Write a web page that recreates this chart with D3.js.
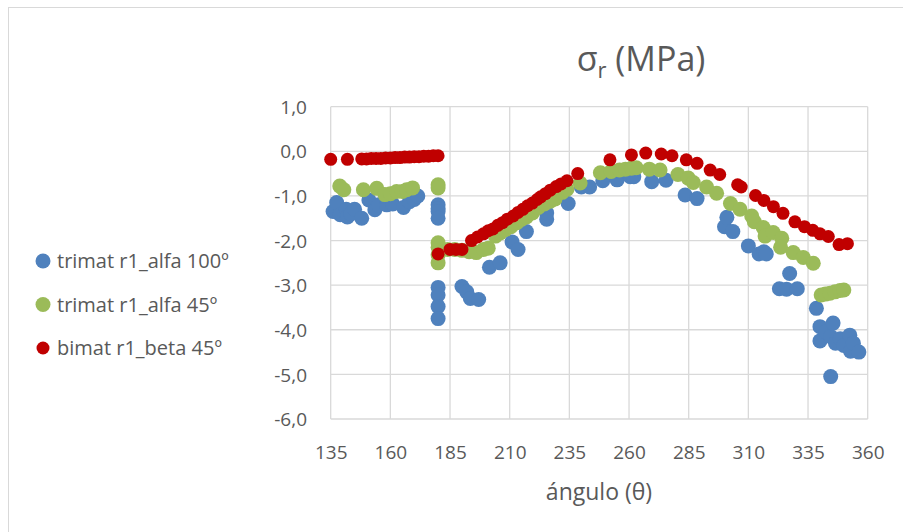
<!DOCTYPE html>
<html><head><meta charset="utf-8">
<script src="https://cdn.jsdelivr.net/npm/d3@7/dist/d3.min.js"></script>
<style>
body{margin:0;background:#fff;}
svg text{font-family:"Open Sans",sans-serif;fill:#595959;}
</style></head>
<body><svg id="c" width="903" height="532"></svg>
<script>
const seriesNames = ["trimat r1_alfa 100º", "trimat r1_alfa 45º", "bimat r1_beta 45º"];
const seriesColors = ["#4F81BD", "#9BBB59", "#C00000"];
const xTicks = [135,160,185,210,235,260,285,310,335,360];
const yTicks = [1,0,-1,-2,-3,-4,-5,-6];

// trimat r1_alfa 100º  [angle, sigma_r]
const blue = [
[136,-1.35],[137.5,-1.15],[139,-1.42],[141.5,-1.3],[142,-1.47],[143.5,-1.4],[145,-1.3],[148,-1.5],
[151,-1.09],[153.5,-1.31],[155,-1.2],[158.5,-1.2],[161,-1.18],[165.5,-1.26],[168,-1.13],[170,-1.08],[171.5,-1.0],
[180,-1.2],[180,-1.28],[180,-1.35],[180,-1.5],[180,-3.05],[180,-3.22],[180,-3.48],[180,-3.75],
[190,-3.03],[192,-3.15],[193.5,-3.3],[197,-3.32],[201.5,-2.6],[206,-2.5],[211,-2.03],[213.5,-2.2],[217,-1.8],
[225.5,-1.52],[225.5,-1.38],[234.5,-1.17],[240,-0.8],[243.5,-0.8],[249,-0.66],[255,-0.64],[260.5,-0.57],[262,-0.57],
[269.5,-0.68],[275.5,-0.65],[283.5,-0.98],[288.5,-1.06],[300,-1.69],[301,-1.48],[303.5,-1.8],[310,-2.12],
[314.5,-2.3],[316.5,-2.25],[317.5,-2.3],[323,-3.08],[326,-3.09],[327.3,-2.74],[330.5,-3.08],
[338.5,-3.52],[340,-3.93],[340,-4.25],[342.5,-4.05],[344.5,-4.15],[344.5,-5.05],[345.5,-3.85],[346.5,-4.3],
[348.5,-4.2],[350,-4.35],[352.5,-4.12],[352.8,-4.48],[354,-4.3],[356.3,-4.5]
];
// trimat r1_alfa 45º
const green = [
[138.8,-0.78],[140.5,-0.86],[148.7,-0.86],[154.3,-0.83],[157.7,-0.97],[160,-0.95],[162.6,-0.9],[165,-0.9],
[166.8,-0.86],[169.3,-0.82],[180,-0.75],[180,-0.82],[180,-2.05],[180,-2.15],[180,-2.32],[180,-2.5],
[184,-2.2],[187,-2.2],[190,-2.22],[193,-2.25],[196,-2.27],[199,-2.2],[201,-2.17],[204,-1.9],[206,-1.83],
[208,-1.76],[210.5,-1.69],[213,-1.6],[215,-1.52],[217,-1.47],[219.5,-1.38],[222,-1.26],[224.5,-1.18],
[227,-1.12],[229,-1.07],[232,-0.92],[234,-0.85],[239.5,-0.71],[248,-0.48],[252.5,-0.45],[256,-0.42],
[258.5,-0.4],[261,-0.38],[263,-0.37],[268.5,-0.4],[273,-0.42],[280.5,-0.52],[284.8,-0.6],[286.9,-0.7],
[292.5,-0.8],[296.7,-0.94],[302.5,-1.17],[306.5,-1.3],[311.4,-1.45],[312.5,-1.58],[316.2,-1.71],
[317,-1.9],[320.4,-1.82],[324,-1.95],[323.5,-2.15],[328.8,-2.27],[333,-2.38],[337.2,-2.51],
[340.5,-3.22],[342.3,-3.2],[344.2,-3.18],[346.3,-3.15],[348.4,-3.12],[350,-3.11]
];
// bimat r1_beta 45º
const red = [
[135,-0.18],[142,-0.18],[148,-0.17],[150,-0.17],[152,-0.16],[154,-0.16],[156,-0.16],[158,-0.15],[160,-0.15],
[162,-0.14],[164,-0.14],[166,-0.13],[168,-0.13],[170,-0.12],[172,-0.12],[174,-0.11],[176,-0.11],[178,-0.1],[180,-0.1],
[180,-2.3],[185,-2.2],[187.5,-2.2],[190,-2.2],[194,-2.0],[196.5,-1.92],[199,-1.85],[201,-1.78],[203,-1.74],
[205,-1.66],[207,-1.6],[209,-1.52],[211.5,-1.45],[213.5,-1.37],[215.5,-1.3],[217.5,-1.22],[219.5,-1.16],
[221.5,-1.08],[223,-1.02],[225,-0.95],[227,-0.87],[229.5,-0.79],[231.5,-0.73],[234,-0.66],[238.5,-0.5],
[252,-0.19],[261,-0.08],[267,-0.04],[273.5,-0.06],[278,-0.1],[284,-0.19],[288.5,-0.27],[294,-0.42],[298,-0.52],
[305.5,-0.75],[307,-0.8],[313,-0.99],[316.5,-1.1],[320.5,-1.24],[324.5,-1.39],[329.5,-1.58],[333.5,-1.69],
[337,-1.77],[340,-1.85],[343.5,-1.91],[348,-2.09],[351.5,-2.07]
];
const seriesData = [blue, green, red];
const radii = [7.5, 7.5, 6.5];

const svg = d3.select("#c");
// outer chart border
svg.append("rect").attr("x",8.5).attr("y",7.5).attr("width",920).attr("height",540)
  .attr("fill","none").attr("stroke","#d9d9d9").attr("stroke-width",1);

const x = d3.scaleLinear().domain([135,360]).range([330.7,867.7]);
const y = d3.scaleLinear().domain([-6,1]).range([419,106.7]);

// grid
const g = svg.append("g");
g.selectAll("line.v").data(xTicks).join("line")
  .attr("x1",d=>x(d)).attr("x2",d=>x(d)).attr("y1",y(1)).attr("y2",y(-6))
  .attr("stroke","#d9d9d9").attr("stroke-width",1.3);
g.selectAll("line.h").data(yTicks).join("line")
  .attr("y1",d=>y(d)).attr("y2",d=>y(d)).attr("x1",x(135)).attr("x2",x(360))
  .attr("stroke","#d9d9d9").attr("stroke-width",1.3);

// axes via d3 axis
const fmt = d => d3.format(".1f")(d).replace(".",",").replace("−","-");
const yAxis = svg.append("g").attr("transform",`translate(307,0)`)
  .call(d3.axisLeft(y).tickValues(yTicks).tickFormat(fmt).tickSize(0).tickPadding(0));
yAxis.select(".domain").remove();
yAxis.selectAll("text").attr("font-size",19).attr("fill","#595959").attr("dy","0.35em")
  .style("font-family","'Open Sans',sans-serif");

const xAxis = svg.append("g").attr("transform",`translate(0,${y(-6)})`)
  .call(d3.axisBottom(x).tickValues(xTicks).tickFormat(d3.format("d")).tickSize(0).tickPadding(0));
xAxis.select(".domain").remove();
xAxis.selectAll("text").attr("font-size",19).attr("fill","#595959").attr("y",33).attr("dy","0.35em")
  .style("font-family","'Open Sans',sans-serif");

// points
seriesData.forEach((data,i)=>{
  svg.append("g").selectAll("circle").data(data).join("circle")
    .attr("cx",d=>x(d[0])).attr("cy",d=>y(d[1])).attr("r",radii[i])
    .attr("fill",seriesColors[i]);
});

// title
const t = svg.append("text").attr("x",641).attr("y",71).attr("text-anchor","middle")
  .attr("font-size",34);
t.append("tspan").text("σ");
t.append("tspan").attr("font-size",22).attr("dy",7).text("r");
t.append("tspan").attr("dy",-7).text(" (MPa)");

// x axis title
svg.append("text").attr("x",599).attr("y",492).attr("dy","0.35em").attr("text-anchor","middle")
  .attr("font-size",23).text("ángulo (θ)");

// legend
const leg = svg.append("g");
seriesNames.forEach((n,i)=>{
  const cy = 261 + i*43.5;
  leg.append("circle").attr("cx",43).attr("cy",cy).attr("r",radii[i]).attr("fill",seriesColors[i]);
  leg.append("text").attr("x",57).attr("y",cy).attr("dy","0.35em").attr("font-size",20).text(n);
});
</script></body></html>
